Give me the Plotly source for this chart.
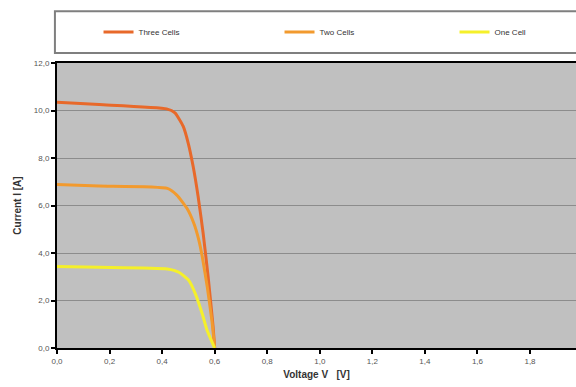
import plotly.graph_objects as go

# Data (Voltage [V], Current [A])
v_three = [0.0, 0.16, 0.417, 0.449, 0.480, 0.499, 0.518, 0.537, 0.556, 0.575, 0.594, 0.600]
i_three = [10.35, 10.25, 10.07, 9.90, 9.34, 8.64, 7.65, 6.38, 4.84, 3.01, 0.90, 0.0]

v_two = [0.0, 0.16, 0.42, 0.456, 0.495, 0.521, 0.540, 0.553, 0.572, 0.590, 0.600]
i_two = [6.88, 6.82, 6.72, 6.44, 5.87, 5.24, 4.53, 3.83, 2.56, 1.10, 0.0]

v_one = [0.0, 0.16, 0.42, 0.464, 0.502, 0.527, 0.553, 0.570, 0.588, 0.600]
i_one = [3.43, 3.40, 3.33, 3.19, 2.84, 2.27, 1.43, 0.78, 0.30, 0.0]

names = ["Three Cells", "Two Cells", "One Cell"]
colors = ["#E8692A", "#F29A2E", "#F5F02A"]
legend_widths = [136, 130, 60]

x_ticks = [0.0, 0.2, 0.4, 0.6, 0.8, 1.0, 1.2, 1.4, 1.6, 1.8]
y_ticks = [0, 2, 4, 6, 8, 10, 12]

fig = go.Figure()
for v, i, n, c, lw in zip([v_three, v_two, v_one], [i_three, i_two, i_one], names, colors, legend_widths):
    fig.add_trace(go.Scatter(x=v, y=i, name=n, mode="lines", legendwidth=lw,
                             line=dict(color=c, width=3, shape="spline", smoothing=0.5)))

fig.add_shape(type="rect", xref="paper", yref="paper",
              x0=-0.004, x1=1.05, y0=1.035, y1=1.182,
              line=dict(color="#7f7f7f", width=2), fillcolor="white", layer="below")

fig.update_layout(
    width=576, height=387,
    margin=dict(l=57, r=0, t=63, b=39),
    paper_bgcolor="white",
    plot_bgcolor="#C0C0C0",
    separators=",.",
    font=dict(family="Liberation Sans, Arial, sans-serif", size=8, color="#555555"),
    showlegend=True,
    legend=dict(orientation="h", x=0.08, xanchor="left", y=1.109, yanchor="middle",
                bgcolor="rgba(0,0,0,0)", borderwidth=0,
                font=dict(size=8, color="#333333"), itemwidth=30),
    xaxis=dict(range=[0, 1.975], tickvals=x_ticks, tickformat=".1f",
               showgrid=False, zeroline=False,
               showline=True, linecolor="black", linewidth=2, mirror=True,
               ticks="outside", ticklen=4, tickwidth=2, tickcolor="black",
               title=dict(text="<b>Voltage V   [V]</b>", standoff=6,
                          font=dict(size=10, color="#333333"))),
    yaxis=dict(range=[0, 12], tickvals=y_ticks, tickformat=".1f",
               showgrid=True, gridcolor="#8C8C8C", gridwidth=1, zeroline=False,
               showline=True, linecolor="black", linewidth=2,
               ticks="outside", ticklen=4, tickwidth=2, tickcolor="black",
               title=dict(text="<b>Current I [A]</b>", standoff=10,
                          font=dict(size=10, color="#333333"))),
)

fig.write_html("out.html")
